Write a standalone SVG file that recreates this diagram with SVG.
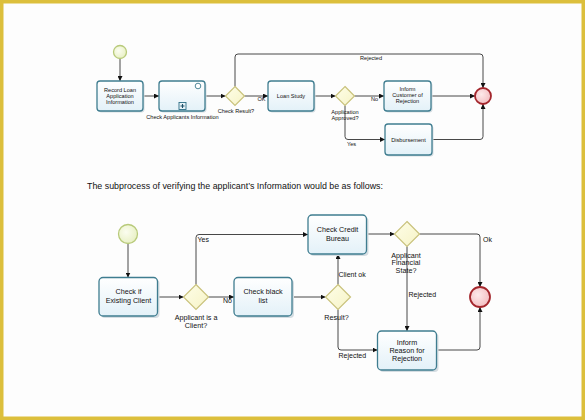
<svg xmlns="http://www.w3.org/2000/svg" width="585" height="420" viewBox="0 0 585 420">
<defs>
<linearGradient id="boxg" x1="0" y1="0" x2="0" y2="1"><stop offset="0" stop-color="#ffffff"/><stop offset="1" stop-color="#e3f1f8"/></linearGradient>
<radialGradient id="startg" cx="0.4" cy="0.4" r="0.7"><stop offset="0" stop-color="#fbfdf0"/><stop offset="1" stop-color="#e6efbf"/></radialGradient>
<radialGradient id="endg" cx="0.4" cy="0.4" r="0.7"><stop offset="0" stop-color="#fde9ea"/><stop offset="1" stop-color="#f2b9bd"/></radialGradient>
<linearGradient id="gwg" x1="0" y1="0" x2="1" y2="1"><stop offset="0" stop-color="#fefee8"/><stop offset="1" stop-color="#f6f3c6"/></linearGradient>
<marker id="ah" viewBox="0 0 10 10" refX="10" refY="5" markerWidth="5" markerHeight="5" markerUnits="userSpaceOnUse" orient="auto"><path d="M0,0 L10,5 L0,10 z" fill="#111"/></marker>
</defs>
<style>
.box{fill:url(#boxg);stroke:#3f7d90;stroke-width:1.3}
.sh{fill:#d5dde2}
.start{fill:url(#startg);stroke:#b8ca7a;stroke-width:1.3}
.end{fill:url(#endg);stroke:#a3262c;stroke-width:1.8}
.gw{fill:url(#gwg);stroke:#c9c27c;stroke-width:1.2}
.c{fill:none;stroke:#333;stroke-width:0.9;marker-end:url(#ah)}
.cn{fill:none;stroke:#333;stroke-width:0.9}
text{font-family:"Liberation Sans",Arial,sans-serif;fill:#111}
.t1{font-size:5.6px;text-anchor:middle}
.l1{font-size:5.6px}
.t2{font-size:7.2px;text-anchor:middle}
.l2{font-size:7px}
</style>
<rect x="0" y="0" width="585" height="420" fill="#fdfdfd"/>
<rect x="1.5" y="1.5" width="582" height="417" fill="none" stroke="#dcbf3c" stroke-width="4"/>

<g id="connectors">
<path class="c" d="M120,58.5 V81"/>
<path class="c" d="M143,96 H159"/>
<path class="c" d="M205,96 H225.5"/>
<path class="c" d="M235,86.5 V57 Q235,54 238,54 H480 Q483,54 483,57 V88"/>
<path class="c" d="M244.5,96 H268"/>
<path class="c" d="M314,96 H335.5"/>
<path class="c" d="M354.5,96 H384"/>
<path class="c" d="M431,96 H475"/>
<path class="c" d="M345,105.5 V136.5 Q345,139.5 348,139.5 H385"/>
<path class="c" d="M432,139.5 H480 Q483,139.5 483,136.5 V104"/>

<path class="c" d="M128,243.5 V277.5"/>
<path class="c" d="M157.5,297 H183.5"/>
<path class="c" d="M196,284.5 V237.5 Q196,234.5 199,234.5 H308"/>
<path class="c" d="M208.5,297 H234"/>
<path class="c" d="M292,297 H325.5"/>
<path class="c" d="M338,284.5 V254"/>
<path class="c" d="M366.5,234 H394.5"/>
<path class="c" d="M419.5,234 H477 Q480,234 480,237 V287"/>
<path class="c" d="M407,246.5 V331"/>
<path class="c" d="M338,309.5 V347 Q338,350 341,350 H377.5"/>
<path class="c" d="M436.5,350 H477 Q480,350 480,347 V307"/>
</g>

<g id="labels">
<text class="l1" x="360" y="60">Rejected</text>
<text class="l1" x="257.5" y="100.5">OK</text>
<text class="l1" x="371" y="100.5">No</text>
<text class="l1" x="347" y="146">Yes</text>
<text class="t1" x="236" y="113">Check Result?</text>
<text class="t1" x="182.5" y="118.5">Check Applicants Information</text>
<text class="t1" x="345" y="113.5">Application</text>
<text class="t1" x="345" y="120">Approved?</text>

<text class="l2" x="197.5" y="242">Yes</text>
<text class="l2" x="223" y="303">No</text>
<text class="l2" x="338.5" y="276.5">Client ok</text>
<text class="l2" x="483" y="242">Ok</text>
<text class="l2" x="408.5" y="296.5">Rejected</text>
<text class="l2" x="338.5" y="357.5">Rejected</text>
<text class="t2" x="196" y="320">Applicant is a</text>
<text class="t2" x="196" y="327.5">Client?</text>
<text class="t2" x="336.5" y="320">Result?</text>
<text class="t2" x="406" y="257.5">Applicant</text>
<text class="t2" x="406" y="265">Financial</text>
<text class="t2" x="406" y="272.5">State?</text>
</g>

<text x="87" y="188.5" font-size="9.5" textLength="296" lengthAdjust="spacingAndGlyphs">The subprocess of verifying the applicant’s Information would be as follows:</text>

<g id="start1"><circle class="start" cx="120" cy="52" r="6.5"/></g>
<g id="record-loan">
<rect class="sh" x="98.5" y="82.5" width="46" height="30" rx="3"/>
<rect class="box" x="97" y="81" width="46" height="30" rx="3"/>
<text class="t1" x="120" y="91.5">Record Loan</text>
<text class="t1" x="120" y="97.5">Application</text>
<text class="t1" x="120" y="103.5">Information</text>
</g>
<g id="check-applicants">
<rect class="sh" x="160.5" y="82.5" width="46" height="30" rx="3"/>
<rect class="box" x="159" y="81" width="46" height="30" rx="3"/>
<circle cx="198" cy="86" r="2.8" fill="#fff" stroke="#3f7d90" stroke-width="0.9"/>
<rect x="179" y="102.5" width="7" height="7" fill="#e8f3f8" stroke="#2f6f86" stroke-width="0.9"/>
<path d="M182.5,104 V108 M180.5,106 H184.5" stroke="#1d4f66" stroke-width="1.1"/>
</g>
<g id="check-result"><path class="gw" d="M235,86.5 L244.5,96 L235,105.5 L225.5,96 Z"/></g>
<g id="loan-study">
<rect class="sh" x="269.5" y="82.5" width="46" height="30" rx="3"/>
<rect class="box" x="268" y="81" width="46" height="30" rx="3"/>
<text class="t1" x="291" y="98">Loan  Study</text>
</g>
<g id="app-approved"><path class="gw" d="M345,86.5 L354.5,96 L345,105.5 L335.5,96 Z"/></g>
<g id="inform-customer">
<rect class="sh" x="385.5" y="82.5" width="47" height="30" rx="3"/>
<rect class="box" x="384" y="81" width="47" height="30" rx="3"/>
<text class="t1" x="407.5" y="91">Inform</text>
<text class="t1" x="407.5" y="97">Customer of</text>
<text class="t1" x="407.5" y="103">Rejection</text>
</g>
<g id="disbursement">
<rect class="sh" x="386.5" y="125.5" width="47" height="31" rx="3"/>
<rect class="box" x="385" y="124" width="47" height="31" rx="3"/>
<text class="t1" x="408.5" y="141.5">Disbursement</text>
</g>
<g id="end1"><circle class="end" cx="483" cy="96" r="8"/></g>

<g id="start2"><circle class="start" cx="128" cy="234" r="9.5"/></g>
<g id="check-existing">
<rect class="sh" x="101" y="279.5" width="58.5" height="38.5" rx="4"/>
<rect class="box" x="99" y="277.5" width="58.5" height="38.5" rx="4"/>
<text class="t2" x="128.5" y="294">Check if</text>
<text class="t2" x="128.5" y="302.5">Existing Client</text>
</g>
<g id="is-client"><path class="gw" d="M196,284.5 L208.5,297 L196,309.5 L183.5,297 Z"/></g>
<g id="check-black">
<rect class="sh" x="236" y="279.5" width="58" height="38.5" rx="4"/>
<rect class="box" x="234" y="277.5" width="58" height="38.5" rx="4"/>
<text class="t2" x="263" y="294">Check black</text>
<text class="t2" x="263" y="302.5">list</text>
</g>
<g id="result"><path class="gw" d="M338,284.5 L350.5,297 L338,309.5 L325.5,297 Z"/></g>
<g id="credit-bureau">
<rect class="sh" x="310" y="217" width="58.5" height="39" rx="4"/>
<rect class="box" x="308" y="215" width="58.5" height="39" rx="4"/>
<text class="t2" x="337.5" y="232">Check Credit</text>
<text class="t2" x="337.5" y="240.5">Bureau</text>
</g>
<g id="financial-state"><path class="gw" d="M407,221.5 L419.5,234 L407,246.5 L394.5,234 Z"/></g>
<g id="inform-reason">
<rect class="sh" x="379.5" y="333" width="59" height="39" rx="4"/>
<rect class="box" x="377.5" y="331" width="59" height="39" rx="4"/>
<text class="t2" x="407" y="345">Inform</text>
<text class="t2" x="407" y="353">Reason for</text>
<text class="t2" x="407" y="361">Rejection</text>
</g>
<g id="end2"><circle class="end" cx="480" cy="297" r="10"/></g>
</svg>
